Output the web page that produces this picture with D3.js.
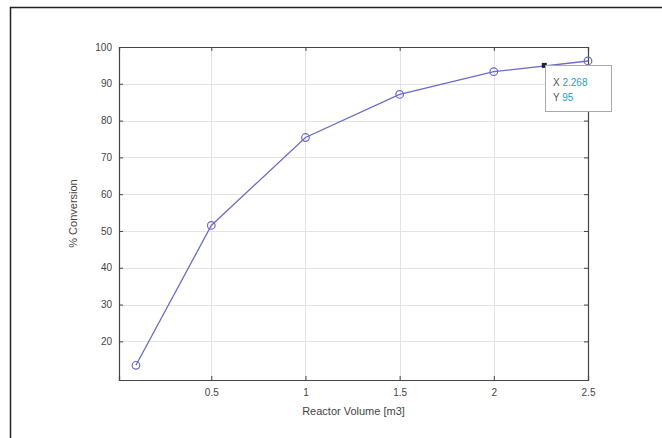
<!DOCTYPE html>
<html>
<head>
<meta charset="utf-8">
<script src="https://cdn.jsdelivr.net/npm/d3@7"></script>
<style>
  body { margin: 0; background: #fff; }
  text { font-family: "Liberation Sans", Arial, sans-serif; }
</style>
</head>
<body>
<div id="chart"></div>
<script>
// data
var volume = [0.1, 0.5, 1, 1.5, 2, 2.5];
var conversion = [13.5, 51.5, 75.4, 87.1, 93.3, 96.2];
var xTicks = [0.5, 1, 1.5, 2, 2.5];
var yTicks = [20, 30, 40, 50, 60, 70, 80, 90, 100];
var tipX = 2.268;
var tipY = 95;

var width = 662, height = 438;
var plotL = 119, plotR = 588, plotT = 47, plotB = 380;
var lineColor = "#6b6bc8";

var svg = d3.select("#chart").append("svg")
    .attr("width", width)
    .attr("height", height);

// outer frame of the figure
svg.append("rect")
    .attr("x", 10.5).attr("y", 7.5)
    .attr("width", 700).attr("height", 500)
    .attr("fill", "none")
    .attr("stroke", "#222")
    .attr("stroke-width", 1.5);

var x = d3.scaleLinear().domain([0.01, 2.5]).range([plotL, plotR]);
var y = d3.scaleLinear().domain([9.5, 100]).range([plotB, plotT]);

// grid
var grid = svg.append("g").attr("stroke", "#e3e3e3").attr("stroke-width", 1);
grid.selectAll(".gx").data(xTicks).enter().append("line")
    .attr("x1", d => Math.round(x(d)) + 0.5).attr("x2", d => Math.round(x(d)) + 0.5)
    .attr("y1", plotT).attr("y2", plotB);
grid.selectAll(".gy").data(yTicks).enter().append("line")
    .attr("y1", d => Math.round(y(d)) + 0.5).attr("y2", d => Math.round(y(d)) + 0.5)
    .attr("x1", plotL).attr("x2", plotR);

// axes, ticks pointing inside like matlab
var xAxis = svg.append("g")
    .attr("transform", "translate(0," + plotB + ")")
    .call(d3.axisBottom(x).tickValues(xTicks).tickSize(-4).tickPadding(9)
        .tickFormat(d3.format("")));
var xTop = svg.append("g")
    .attr("transform", "translate(0," + plotT + ")")
    .call(d3.axisTop(x).tickValues(xTicks).tickSize(-4).tickFormat(""));
var yAxis = svg.append("g")
    .attr("transform", "translate(" + plotL + ",0)")
    .call(d3.axisLeft(y).tickValues(yTicks).tickSize(-4).tickPadding(7));
var yRight = svg.append("g")
    .attr("transform", "translate(" + plotR + ",0)")
    .call(d3.axisRight(y).tickValues(yTicks).tickSize(-4).tickFormat(""));

[xAxis, xTop, yAxis, yRight].forEach(function(a) {
    a.select(".domain").attr("stroke", "#444").attr("stroke-width", 1.2);
    a.selectAll(".tick line").attr("stroke", "#444");
    a.selectAll(".tick text").attr("fill", "#444").style("font-size", "10px");
});

// axis labels
svg.append("text")
    .attr("x", (plotL + plotR) / 2).attr("y", 415)
    .attr("text-anchor", "middle")
    .attr("fill", "#444")
    .style("font-size", "11px")
    .text("Reactor Volume [m3]");

svg.append("text")
    .attr("transform", "translate(77," + (plotT + plotB) / 2 + ") rotate(-90)")
    .attr("text-anchor", "middle")
    .attr("fill", "#444")
    .style("font-size", "11px")
    .text("% Conversion");

// line + markers
var data = volume.map((v, i) => ({x: v, y: conversion[i]}));
var line = d3.line().x(d => x(d.x)).y(d => y(d.y));

svg.append("path")
    .datum(data)
    .attr("d", line)
    .attr("fill", "none")
    .attr("stroke", lineColor)
    .attr("stroke-width", 1.3);

svg.selectAll(".pt").data(data).enter().append("circle")
    .attr("cx", d => x(d.x)).attr("cy", d => y(d.y))
    .attr("r", 3.8)
    .attr("fill", "none")
    .attr("stroke", lineColor)
    .attr("stroke-width", 1.2);

// data tip
svg.append("rect")
    .attr("x", x(tipX) - 2.5).attr("y", y(tipY) - 2.5)
    .attr("width", 5).attr("height", 5)
    .attr("fill", "#223");

var tip = svg.append("g").attr("transform", "translate(545,65)");
tip.append("rect")
    .attr("x", 0.5).attr("y", 0.5)
    .attr("width", 66).attr("height", 46)
    .attr("fill", "#fff")
    .attr("stroke", "#aaa")
    .attr("stroke-width", 1);
var t1 = tip.append("text").attr("x", 8).attr("y", 21).style("font-size", "10px");
t1.append("tspan").attr("fill", "#555").text("X ");
t1.append("tspan").attr("fill", "#2a9ad0").text(tipX);
var t2 = tip.append("text").attr("x", 8).attr("y", 36).style("font-size", "10px");
t2.append("tspan").attr("fill", "#555").text("Y ");
t2.append("tspan").attr("fill", "#2a9ad0").text(tipY);
</script>
</body>
</html>
